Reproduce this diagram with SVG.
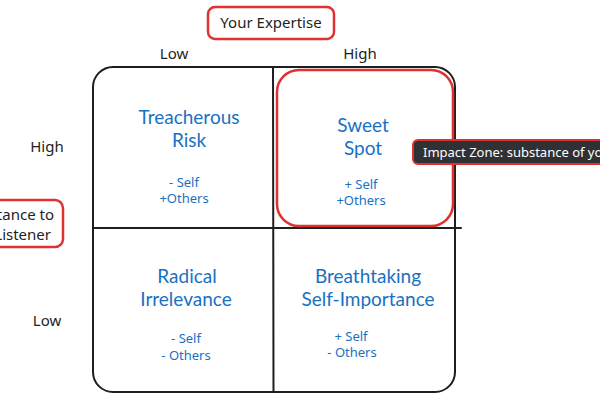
<svg xmlns="http://www.w3.org/2000/svg" width="600" height="400" viewBox="0 0 600 400">
<style>
.lbl{font-family:"Noto Sans","Open Sans",sans-serif;font-size:15px;fill:#1e1e1e}
.ttl{font-family:"Lato","Noto Sans",sans-serif;font-size:19px;fill:#1971c2;text-anchor:middle}
.sub{font-family:"Noto Sans","Open Sans",sans-serif;font-size:13px;fill:#1971c2;text-anchor:middle}
.red{fill:#ffffff;stroke:#e03131;stroke-width:2.5}
.line{stroke:#1e1e1e;stroke-width:2;fill:none;stroke-linecap:round}
</style>
<rect width="600" height="400" fill="#ffffff"/>
<g id="matrix">
<rect x="93" y="67" width="362" height="325" rx="20" class="line"/>
</g>
<g id="connectors">
<line x1="273" y1="67" x2="273.5" y2="392" class="line"/>
<line x1="93" y1="228" x2="461" y2="228" class="line"/>
</g>
<g id="axis-x">
<rect x="208" y="7" width="126" height="32" rx="7" class="red"/>
<text x="271" y="28" class="lbl" text-anchor="middle">Your Expertise</text>
<text x="174" y="59" class="lbl" text-anchor="middle">Low</text>
<text x="360" y="59" class="lbl" text-anchor="middle">High</text>
</g>
<g id="axis-y">
<rect x="-40" y="200" width="103" height="47" rx="8" class="red"/>
<text x="54" y="220" class="lbl" text-anchor="end">Importance to</text>
<text x="51" y="240" class="lbl" text-anchor="end">Listener</text>
<text x="47" y="152" class="lbl" text-anchor="middle">High</text>
<text x="47" y="326" class="lbl" text-anchor="middle">Low</text>
</g>
<g id="q-treacherous">
<text x="189" y="124" class="ttl">Treacherous</text>
<text x="189" y="147" class="ttl">Risk</text>
<text x="184" y="187" class="sub">- Self</text>
<text x="184" y="203" class="sub">+Others</text>
</g>
<g id="q-sweet">
<rect x="277" y="70" width="176" height="156" rx="22" fill="none" stroke="#e03131" stroke-width="2.5"/>
<text x="363" y="132" class="ttl">Sweet</text>
<text x="363" y="155" class="ttl">Spot</text>
<text x="361" y="189" class="sub">+ Self</text>
<text x="361" y="205" class="sub">+Others</text>
</g>
<g id="q-radical">
<text x="187" y="283" class="ttl">Radical</text>
<text x="186" y="306" class="ttl">Irrelevance</text>
<text x="186" y="343" class="sub">- Self</text>
<text x="186" y="360" class="sub">- Others</text>
</g>
<g id="q-breathtaking">
<text x="368" y="283" class="ttl">Breathtaking</text>
<text x="368" y="306" class="ttl">Self-Importance</text>
<text x="351" y="341" class="sub">+ Self</text>
<text x="352" y="357" class="sub">- Others</text>
</g>
<g id="tooltip">
<rect x="413" y="140" width="200" height="24" rx="5" fill="#2f3134" stroke="#e03131" stroke-width="2"/>
<text x="423" y="157" font-family="Noto Sans, sans-serif" font-size="13" fill="#ffffff">Impact Zone: substance of yo</text>
</g>
</svg>
